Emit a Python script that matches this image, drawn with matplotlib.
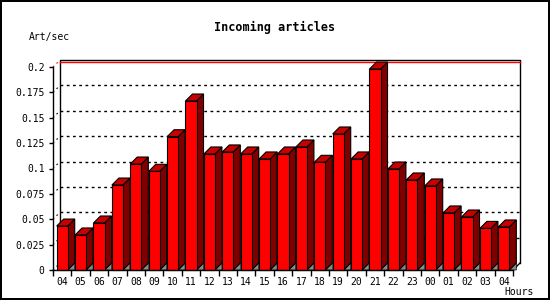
import matplotlib
matplotlib.use("Agg")
import matplotlib.pyplot as plt
from matplotlib.patches import Polygon, Rectangle
from matplotlib.transforms import ScaledTranslation

hours = ["04", "05", "06", "07", "08", "09", "10", "11", "12", "13", "14", "15", "16",
         "17", "18", "19", "20", "21", "22", "23", "00", "01", "02", "03", "04"]
values = [0.0433, 0.0345, 0.0463, 0.0837, 0.1044, 0.0972, 0.1313, 0.1665, 0.1143,
          0.1163, 0.1143, 0.1094, 0.1143, 0.1212, 0.1061, 0.1340, 0.1094, 0.1980,
          0.0995, 0.0887, 0.0828, 0.0562, 0.0522, 0.0410, 0.0424]
yticks = [0, 0.025, 0.05, 0.075, 0.1, 0.125, 0.15, 0.175, 0.2]
ytick_labels = ["0", "0.025", "0.05", "0.075", "0.1", "0.125", "0.15", "0.175", "0.2"]
title = "Incoming articles"
ylabel = "Art/sec"
xlabel = "Hours"

DPI = 100
W, H = 550, 300
fig = plt.figure(figsize=(W / DPI, H / DPI), dpi=DPI)
fig.patch.set_facecolor("white")
fig.patch.set_edgecolor("black")
fig.patch.set_linewidth(1.5)

mono = "DejaVu Sans Mono"
L, R, B, T = 53, 513, 270, 67
ax = fig.add_axes([L / W, (H - B) / H, (R - L) / W, (B - T) / H])
n = len(values)
ax.set_xlim(0, n)
ax.set_ylim(0, 0.2)
ax.patch.set_alpha(0)
for s in ["top", "right"]:
    ax.spines[s].set_visible(False)
for s in ["left", "bottom"]:
    ax.spines[s].set_linewidth(1)
    ax.spines[s].set_zorder(5)

depth = 7
dx = depth / ((R - L) / n)
dy = depth / ((B - T) / 0.2)
off = ax.transData + ScaledTranslation(depth / DPI, depth / DPI, fig.dpi_scale_trans)

# y ticks
ax.set_yticks(yticks)
ax.set_yticklabels(ytick_labels, fontfamily=mono, fontsize=7)
ax.tick_params(axis="y", length=3, width=1, pad=3)
# x ticks: boundaries as major ticks, labels at bar centres
ax.set_xticks(range(n + 1))
ax.set_xticklabels([])
ax.set_xticks([i + 0.5 for i in range(n)], minor=True)
ax.set_xticklabels(hours, minor=True, fontfamily=mono, fontsize=7)
ax.tick_params(axis="x", which="major", length=4, width=1, direction="out")
ax.tick_params(axis="x", which="minor", length=0, pad=5)

# back plane
ax.plot([0, 0, n, n], [0, 0.2, 0.2, 0], transform=off, color="black", lw=1, clip_on=False, zorder=1)
ax.plot([0, n], [0.2 - 0.0018, 0.2 - 0.0018], transform=off, color="red", lw=1, clip_on=False, zorder=1)
for v in yticks[1:-1]:
    ax.plot([0, n], [v, v], transform=off, color="black", lw=1, ls=(0, (2, 2.5)), clip_on=False, zorder=1)
for v in yticks:
    ax.plot([0, dx], [v, v + dy], color="red" if v == 0.2 else "black", lw=0.8,
            ls=(0, (1.5, 3)), clip_on=False, zorder=1)
ax.plot([n, n + dx], [0, dy], color="black", lw=1, clip_on=False, zorder=1)

# bars
front_w = 0.6
lead = 0.2
for i, v in enumerate(values):
    x0 = i + lead
    x1 = x0 + front_w
    ax.add_patch(Polygon([(x1, 0), (x1 + dx, dy), (x1 + dx, 0)], closed=True,
                         fc="#8c8c8c", ec="black", lw=0.5, clip_on=False, zorder=2))
    ax.add_patch(Polygon([(x1, 0), (x1 + dx, dy), (x1 + dx, v + dy), (x1, v)], closed=True,
                         fc="#800000", ec="black", lw=0.8, clip_on=False, zorder=3))
    ax.add_patch(Polygon([(x0, v), (x1, v), (x1 + dx, v + dy), (x0 + dx, v + dy)], closed=True,
                         fc="#c80000", ec="black", lw=0.8, clip_on=False, zorder=3))
    ax.add_patch(Rectangle((x0, 0), front_w, v, fc="#ff0000", ec="black", lw=0.8,
                           clip_on=False, zorder=4))

fig.text(274.5 / W, 1 - 27 / H, title, fontfamily=mono, fontsize=8.5, fontweight="bold",
         ha="center", va="center")
fig.text(29 / W, 1 - 37 / H, ylabel, fontfamily=mono, fontsize=7, ha="left", va="center")
fig.text(534 / W, 1 - 292 / H, xlabel, fontfamily=mono, fontsize=7, ha="right", va="center")

fig.savefig("out.png", dpi=DPI, facecolor=fig.get_facecolor(), edgecolor=fig.get_edgecolor())
